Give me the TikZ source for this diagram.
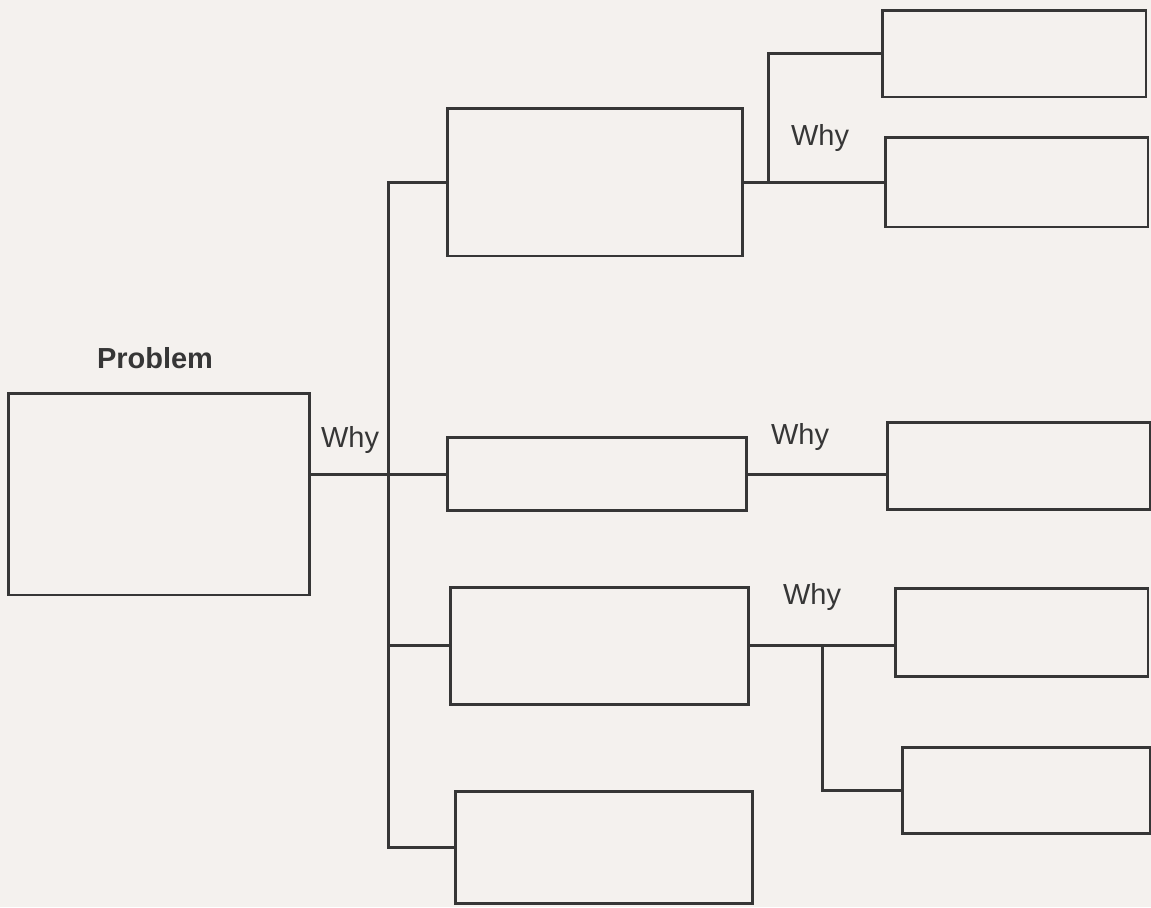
\documentclass[tikz,border=0pt]{standalone}
\usepackage{fontspec}
\setmainfont{Liberation Sans}
\usetikzlibrary{positioning}
\definecolor{paper}{HTML}{F4F1EE}
\definecolor{ink}{HTML}{363636}

\begin{document}
\begin{tikzpicture}[
  x=0.02cm, y=-0.02cm,
  font=\fontsize{16.5}{19}\selectfont,
  box/.style={draw=ink, line width=1.7pt, inner sep=0pt},
  link/.style={draw=ink, line width=1.7pt},
  tag/.style={text=ink, inner sep=1pt}
]
\fill[paper] (0,0) rectangle (1151,907);
\useasboundingbox (0,0) rectangle (1151,907);
\node[box, minimum width=6.04cm, minimum height=4.04cm] (prob) at (159,494) {};
\node[tag, font=\fontsize{16.5}{19}\selectfont\bfseries] (problbl) at (155,358) {Problem};
\node[box, minimum width=5.92cm, minimum height=2.96cm] (why1) at (595,182) {};
\node[box, minimum width=6.00cm, minimum height=1.46cm] (why2) at (597,474) {};
\node[box, minimum width=5.98cm, minimum height=2.34cm] (why3) at (599.5,645.5) {};
\node[box, minimum width=5.96cm, minimum height=2.24cm] (why4) at (604,847) {};
\node[box, minimum width=5.28cm, minimum height=1.74cm] (r1) at (1014,53.5) {};
\node[box, minimum width=5.26cm, minimum height=1.80cm] (r2) at (1016.5,182) {};
\node[box, minimum width=5.26cm, minimum height=1.74cm] (r3) at (1018.5,465.5) {};
\node[box, minimum width=5.06cm, minimum height=1.76cm] (r4) at (1021.5,632) {};
\node[box, minimum width=4.96cm, minimum height=1.72cm] (r5) at (1026,790) {};
\node[tag] (whya) at (350,440) {Why};
\node[tag] (whyb) at (820,138) {Why};
\node[tag] (whyc) at (800,437) {Why};
\node[tag] (whyd) at (812,597) {Why};
\coordinate (trunk) at (388,500);
\coordinate (fork1) at (768,182);
\coordinate (fork2) at (822,647);
\draw[link] (why1.west) -| (trunk) |- (why4.west);
\draw[link] (prob.east |- why2.west) -- (why2.west);
\draw[link] (trunk |- why3.west) -- (why3.west);
\draw[link] (why1.east) -- (r2.west);
\draw[link] (fork1) |- (r1.west);
\draw[link] (why2.east) -- (r3.west |- why2.east);
\draw[link] (why3.east) -- (r4.west |- why3.east);
\draw[link] (fork2) |- (r5.west);
\end{tikzpicture}
\end{document}
